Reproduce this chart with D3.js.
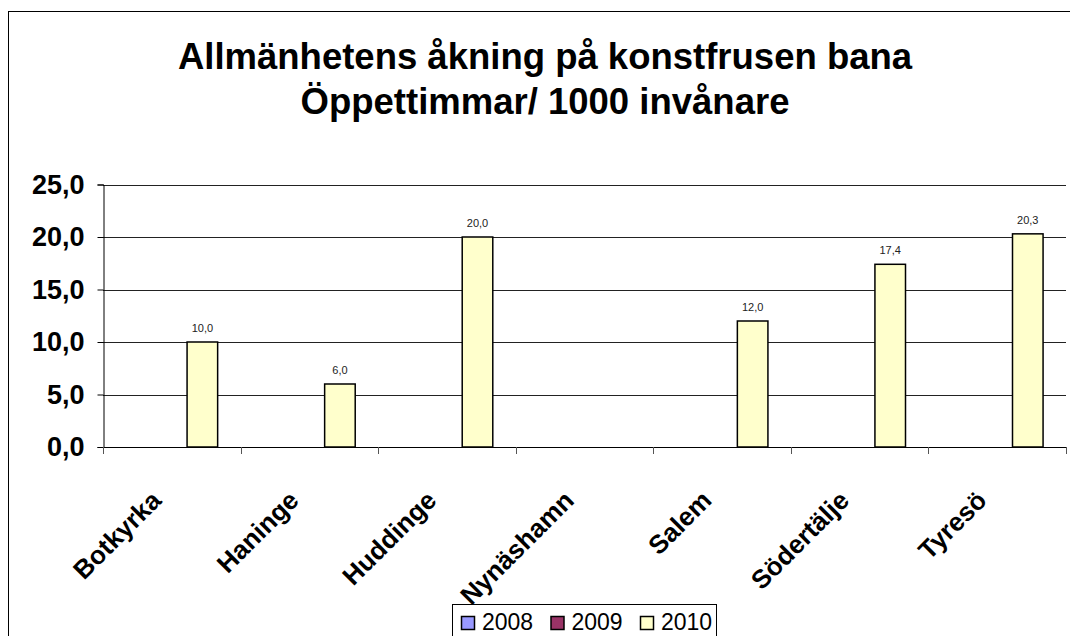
<!DOCTYPE html>
<html>
<head>
<meta charset="utf-8">
<script src="https://cdn.jsdelivr.net/npm/d3@7"></script>
<style>
    body { margin: 0; background: #fff; }
    svg { display: block; font-family: "Liberation Sans", Arial, sans-serif; }
</style>
</head>
<body>
<div id="chart"></div>
<script>
//// Data
const categories = ["Botkyrka", "Haninge", "Huddinge", "Nynäshamn", "Salem", "Södertälje", "Tyresö"]
const series = ["2008", "2009", "2010"]
const values_2008 = [null, null, null, null, null, null, null]
const values_2009 = [null, null, null, null, null, null, null]
const values_2010 = [10.0, 6.0, 20.0, null, 12.0, 17.4, 20.3]
const y_ticks = [0, 5, 10, 15, 20, 25]
const title_lines = ["Allmänhetens åkning på konstfrusen bana", "Öppettimmar/ 1000 invånare"]

const series_colors = {"2008": "#9999ff", "2009": "#993366", "2010": "#ffffcc"}

// Long format rows for drawing bars
var rows = []
categories.forEach((c, i) => {
    rows.push({cat: c, serie: "2008", value: values_2008[i]})
    rows.push({cat: c, serie: "2009", value: values_2009[i]})
    rows.push({cat: c, serie: "2010", value: values_2010[i]})
})

const fmt = v => d3.format(".1f")(v).replace(".", ",")

//// Canvas
var width = 1070,
    height = 636
var plot = {left: 103, right: 1066, top: 184.5, bottom: 447}

var svg = d3.select("#chart")
    .append("svg")
        .attr("width", width)
        .attr("height", height)

// Chart frame (runs out past the right and bottom edges)
svg.append("rect")
    .attr("x", 8.5)
    .attr("y", 11.5)
    .attr("width", 1200)
    .attr("height", 800)
    .attr("fill", "none")
    .attr("stroke", "#000")
    .attr("stroke-width", 1)

// Title
svg.append("g")
    .selectAll("text")
        .data(title_lines)
        .enter()
        .append("text")
            .attr("x", 545)
            .attr("y", (d, i) => 69 + i * 45)
            .attr("text-anchor", "middle")
            .attr("font-size", 36.5)
            .attr("font-weight", "bold")
            .text(d => d)

//// Scales
var x = d3.scaleBand()
    .domain(categories)
    .range([plot.left, plot.right])

var x1 = d3.scaleBand()
    .domain(series)
    .range([0, x.bandwidth()])
    .paddingOuter(0.75)

var y = d3.scaleLinear()
    .domain([0, 25])
    .range([plot.bottom, plot.top])

// Gridlines
svg.append("g")
    .selectAll("line")
        .data(y_ticks.filter(t => t > 0))
        .enter()
        .append("line")
            .attr("x1", plot.left)
            .attr("x2", plot.right)
            .attr("y1", d => Math.round(y(d)) + 0.5)
            .attr("y2", d => Math.round(y(d)) + 0.5)
            .attr("stroke", "#222")
            .attr("stroke-width", 1)

// Bars
svg.append("g")
    .selectAll("rect")
        .data(rows.filter(d => d.value != null))
        .enter()
        .append("rect")
            .attr("x", d => x(d.cat) + x1(d.serie))
            .attr("y", d => y(d.value))
            .attr("width", x1.bandwidth())
            .attr("height", d => y(0) - y(d.value))
            .attr("fill", d => series_colors[d.serie])
            .attr("stroke", "#000")
            .attr("stroke-width", 1.5)

// Value labels
svg.append("g")
    .selectAll("text")
        .data(rows.filter(d => d.value != null))
        .enter()
        .append("text")
            .attr("x", d => x(d.cat) + x1(d.serie) + x1.bandwidth() / 2)
            .attr("y", d => y(d.value) - 10)
            .attr("text-anchor", "middle")
            .attr("font-size", 11)
            .attr("fill", "#222")
            .text(d => fmt(d.value))

// Y axis
var y_axis = svg.append("g")
    .attr("transform", "translate(" + (plot.left + 0.5) + ",0)")
    .call(d3.axisLeft(y).tickValues(y_ticks).tickSize(6).tickPadding(13).tickFormat(fmt))
y_axis.select(".domain").attr("stroke", "#000")
y_axis.selectAll("line").attr("stroke", "#000")
y_axis.selectAll("text")
    .attr("font-family", "Liberation Sans, Arial, sans-serif")
    .attr("font-size", 27)
    .attr("font-weight", "bold")
    .attr("fill", "#000")

// X axis: baseline and tick marks on category boundaries
svg.append("line")
    .attr("x1", plot.left)
    .attr("x2", plot.right)
    .attr("y1", plot.bottom + 0.5)
    .attr("y2", plot.bottom + 0.5)
    .attr("stroke", "#000")

svg.append("g")
    .selectAll("line")
        .data(categories.concat(["end"]))
        .enter()
        .append("line")
            .attr("x1", (d, i) => Math.round(plot.left + i * x.step()) + 0.5)
            .attr("x2", (d, i) => Math.round(plot.left + i * x.step()) + 0.5)
            .attr("y1", plot.bottom)
            .attr("y2", plot.bottom + 7)
            .attr("stroke", "#555")

// Category labels, rotated
svg.append("g")
    .selectAll("text")
        .data(categories)
        .enter()
        .append("text")
            .attr("transform", d => "translate(" + (x(d) + x.bandwidth() / 2 - 9) + ",502) rotate(-45)")
            .attr("text-anchor", "end")
            .attr("font-size", 26)
            .attr("font-weight", "bold")
            .text(d => d)

//// Legend
var legend = svg.append("g")
legend.append("rect")
    .attr("x", 452.5)
    .attr("y", 604.5)
    .attr("width", 264)
    .attr("height", 60)
    .attr("fill", "#fff")
    .attr("stroke", "#000")

var legend_x = d3.scalePoint()
    .domain(series)
    .range([461, 640])

var items = legend.selectAll("g")
    .data(series)
    .enter()
    .append("g")
        .attr("transform", d => "translate(" + legend_x(d) + ",0)")

items.append("rect")
    .attr("x", 0.5)
    .attr("y", 616.5)
    .attr("width", 13)
    .attr("height", 13)
    .attr("fill", d => series_colors[d])
    .attr("stroke", "#000")
    .attr("stroke-width", 1.5)

items.append("text")
    .attr("x", 21)
    .attr("y", 630)
    .attr("font-size", 23)
    .text(d => d)
</script>
</body>
</html>
